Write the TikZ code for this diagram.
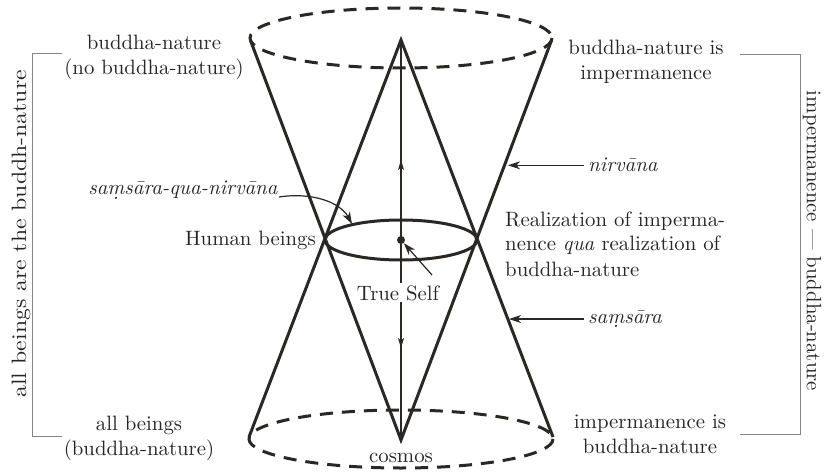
\documentclass[tikz,border=0pt]{standalone}
\usepackage{fontspec}
\setmainfont{lmroman10-regular.otf}[ItalicFont=lmroman10-italic.otf, BoldFont=lmroman10-bold.otf]
\usepackage{graphicx}
\usetikzlibrary{arrows.meta,decorations.markings,calc}
\definecolor{ink}{HTML}{2B2722}
\definecolor{txt}{HTML}{262626}
\definecolor{bracketgray}{HTML}{858585}
\newcommand{\subdotm}{\ooalign{m\cr\hidewidth\raisebox{-0.55ex}{.}\hidewidth\cr}}
\begin{document}
\begin{tikzpicture}[x=1pt,y=-1pt,
  font=\fontsize{20.8}{25}\selectfont,
  every node/.style={text=txt, inner sep=0pt},
  cone/.style={draw=ink, line width=3pt, line join=miter},
  rim/.style={draw=ink, line width=3pt, dash pattern=on 13pt off 9pt},
  axis/.style={draw=ink, line width=1.2pt},
  pointer/.style={draw=ink, line width=1.2pt, -{Stealth[length=12pt,width=8pt,inset=3.5pt]}},
  bracket/.style={draw=bracketgray, line width=0.9pt},
  lbl/.style={anchor=base, align=center},
  uparrow/.style={postaction={decorate}, decoration={markings, mark=at position 0.4 with {\arrow{Stealth[length=10pt,width=6pt,inset=2.5pt]}}}},
  downarrow/.style={postaction={decorate}, decoration={markings, mark=at position 0.54 with {\arrow{Stealth[length=10pt,width=6pt,inset=2.5pt]}}}}]
\useasboundingbox (0,0) rectangle (827,473);
% key points
\coordinate (topC) at (401,38);
\coordinate (botC) at (401,439);
\coordinate (apexT) at (401,40);
\coordinate (apexB) at (401,440);
\coordinate (tL) at (250.4,40.2);
\coordinate (tR) at (551.6,40.2);
\coordinate (bL) at (249,437);
\coordinate (bR) at (553,437);
\coordinate (midC) at (401,240);
% rims
\draw[rim] (topC) ellipse [x radius=151, y radius=30];
\draw[rim] (botC) ellipse [x radius=152, y radius=29];
% cones
\draw[cone] (tL) -- (apexB) -- (tR);
\draw[cone] (bL) -- (apexT) -- (bR);
\draw[cone] (midC) ellipse [x radius=76, y radius=20];
% axis
\draw[axis, uparrow] (midC) -- (apexT);
\draw[axis, downarrow] (midC) -- (apexB);
\node[circle, fill=ink, minimum size=8pt] (dot) at (midC) {};
% True Self
\node[lbl, fill=white, inner sep=2pt] (trueself) at (398,300) {True Self};
\coordinate (tsStart) at (432,275);
\draw[pointer] (tsStart) -- (dot);
% labels (base = last line)
\node[lbl] (bnTop) at (154,75) {buddha-nature\\(no buddha-nature)};
\node[lbl] (bnImp) at (646,80) {buddha-nature is\\impermanence};
\node[lbl] (allB) at (139,455) {all beings\\(buddha-nature)};
\node[lbl] (impBn) at (650,453) {impermanence is\\buddha-nature};
\node[anchor=base] (cosmos) at (401,462) {cosmos};
\node[anchor=base east] (human) at (316,245) {Human beings};
\node[anchor=base west, align=left] (real) at (505,276) {Realization of imperma-\\nence \textit{qua} realization of\\buddha-nature};
% nirvana / samsara pointers
\node[anchor=base west] (nirv) at (588,172) {\textit{nirv\=ana}};
\coordinate (nirvTip) at (508,166);
\draw[pointer, shorten <=4pt] (nirv.west) -- (nirv.west -| nirvTip);
\node[anchor=base west] (sams) at (588,323) {\textit{sa\subdotm s\=ara}};
\coordinate (samsTip) at (509,318);
\draw[pointer, shorten <=4pt] (sams.west) -- (sams.west -| samsTip);
% samsara-qua-nirvana
\node[anchor=base east] (sqn) at (278,195) {\textit{sa\subdotm s\=ara-qua-nirv\=ana}};
\coordinate (sqnTip) at (352,224);
\draw[pointer] ([xshift=1pt,yshift=-2pt]sqn.base east) .. controls (312,192) and (340,202) .. (sqnTip);
% brackets
\coordinate (lb1) at (62,53);
\coordinate (lb2) at (32,53);
\coordinate (lb3) at (32,436);
\coordinate (lb4) at (62,436);
\draw[bracket] (lb1) -- (lb2) -- (lb3) -- (lb4);
\coordinate (rb1) at (740,54);
\coordinate (rb2) at (800,54);
\coordinate (rb3) at (800,434);
\coordinate (rb4) at (740,434);
\draw[bracket] (rb1) -- (rb2) -- (rb3) -- (rb4);
\node[rotate=90] (lrot) at (21,234) {\scalebox{1.14}[1]{all beings are the buddh-nature}};
\node[rotate=-90] (rrot) at (812,241) {impermanence --- buddha-nature};
\end{tikzpicture}
\end{document}
